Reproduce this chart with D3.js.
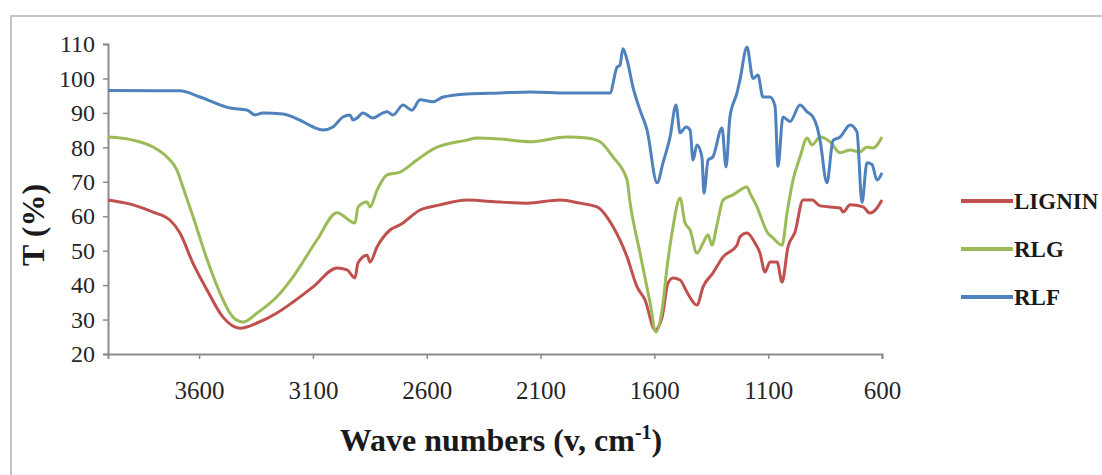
<!DOCTYPE html>
<html>
<head>
<meta charset="utf-8">
<script src="https://cdn.jsdelivr.net/npm/d3@7"></script>
<style>
  html, body { margin: 0; padding: 0; background: #fff; }
  svg { display: block; }
</style>
</head>
<body>
<svg id="chart" width="1102" height="475"></svg>
<script>
// Series names, legend order
const seriesNames = ["LIGNIN", "RLG", "RLF"];
const seriesColors = ["#c0504d", "#9bbb59", "#4f81bd"];

// Axis ticks
const xTicks = [3600, 3100, 2600, 2100, 1600, 1100, 600];
const yTicks = [20, 30, 40, 50, 60, 70, 80, 90, 100, 110];

// LIGNIN: wave number (cm-1) and transmittance (%)
const ligninWave = [4000, 3890, 3802, 3728, 3684, 3627, 3565, 3495, 3420, 3345, 3258, 3187, 3099, 2994, 2950, 2915, 2902, 2862, 2849, 2818, 2761, 2717, 2629, 2542, 2423, 2278, 2159, 2014, 1927, 1852, 1782, 1720, 1676, 1641, 1597, 1566, 1540, 1518, 1487, 1457, 1413, 1386, 1343, 1298, 1237, 1224, 1193, 1158, 1136, 1114, 1092, 1061, 1039, 1013, 982, 947, 907, 872, 784, 771, 740, 683, 653, 622, 600];
const ligninT = [64.7, 63.3, 61.2, 58.9, 55.1, 46.4, 38.6, 30.7, 27.5, 29.0, 31.9, 35.1, 39.5, 45.0, 44.4, 42.1, 46.4, 48.7, 46.7, 51.1, 56.0, 57.5, 61.8, 63.3, 64.7, 64.1, 63.8, 64.7, 63.8, 62.7, 57.0, 48.2, 39.5, 35.7, 27.0, 30.7, 40.6, 42.1, 41.5, 38.0, 34.2, 39.5, 43.5, 48.2, 51.6, 54.0, 55.1, 52.2, 49.3, 43.8, 46.7, 46.7, 40.9, 51.1, 55.4, 64.7, 64.7, 63.0, 62.4, 61.2, 63.3, 62.7, 60.9, 62.4, 64.7];

// RLG
const rlgWave = [4000, 3890, 3802, 3741, 3697, 3671, 3627, 3565, 3508, 3451, 3407, 3345, 3258, 3187, 3082, 2994, 2915, 2902, 2862, 2849, 2818, 2774, 2717, 2643, 2572, 2423, 2379, 2278, 2146, 1984, 1896, 1839, 1782, 1720, 1707, 1663, 1619, 1593, 1566, 1544, 1518, 1487, 1465, 1443, 1413, 1386, 1364, 1347, 1325, 1298, 1254, 1193, 1180, 1149, 1127, 1105, 1079, 1039, 1017, 991, 960, 929, 907, 872, 828, 784, 740, 697, 666, 640, 600];
const rlgT = [83.0, 82.1, 80.1, 77.2, 73.4, 68.5, 60.0, 47.5, 37.7, 30.7, 29.3, 31.9, 36.6, 42.4, 53.1, 61.0, 58.0, 62.7, 64.1, 62.7, 67.6, 72.0, 72.8, 76.3, 79.5, 82.1, 82.7, 82.4, 81.6, 83.0, 82.7, 81.6, 77.2, 70.5, 64.1, 49.3, 35.0, 26.4, 32.8, 45.3, 56.9, 65.3, 58.0, 56.0, 49.3, 52.2, 54.6, 51.6, 57.5, 64.7, 66.2, 68.5, 66.7, 62.7, 58.9, 55.4, 53.7, 51.6, 61.0, 70.5, 77.2, 82.7, 80.7, 83.0, 81.6, 78.4, 79.2, 78.7, 80.1, 79.8, 83.0];

// RLF
const rlfWave = [4000, 3684, 3596, 3464, 3389, 3354, 3319, 3231, 3157, 3099, 3056, 3012, 2968, 2937, 2924, 2906, 2880, 2836, 2792, 2774, 2748, 2704, 2665, 2629, 2572, 2528, 2423, 2278, 2146, 1984, 1839, 1795, 1764, 1751, 1738, 1720, 1694, 1663, 1632, 1588, 1562, 1531, 1505, 1487, 1461, 1443, 1430, 1413, 1391, 1382, 1364, 1343, 1303, 1285, 1268, 1237, 1224, 1193, 1167, 1145, 1123, 1092, 1070, 1057, 1035, 1004, 960, 929, 903, 885, 872, 842, 815, 784, 740, 710, 688, 666, 644, 622, 600];
const rlfT = [96.5, 96.4, 94.6, 91.4, 90.8, 89.4, 90.0, 89.7, 87.9, 85.9, 85.0, 85.9, 88.8, 89.4, 87.9, 88.5, 90.0, 88.5, 90.0, 90.3, 89.4, 92.3, 90.8, 93.8, 93.2, 94.6, 95.5, 95.8, 96.1, 95.8, 95.8, 95.8, 103.3, 103.9, 108.6, 105.4, 97.5, 90.8, 85.0, 69.7, 75.5, 83.0, 92.3, 84.2, 85.9, 85.0, 76.3, 80.7, 77.2, 66.7, 76.3, 77.2, 85.6, 74.3, 88.8, 95.8, 99.6, 109.1, 100.0, 101.0, 94.6, 94.6, 92.0, 74.5, 88.8, 87.5, 92.3, 90.3, 88.8, 85.9, 82.0, 69.7, 82.0, 83.0, 86.5, 84.5, 64.0, 75.5, 75.0, 70.5, 72.6];

const svg = d3.select("#chart");
const width = +svg.attr("width");
const height = +svg.attr("height");

// Outer frame of the chart area
svg.append("rect")
  .attr("x", 11).attr("y", 16)
  .attr("width", width).attr("height", height)
  .attr("fill", "#fff")
  .attr("stroke", "#c4c4c4")
  .attr("stroke-width", 2);

// Scales
const x = d3.scaleLinear().domain([4000, 600]).range([108, 882]);
const y = d3.scaleLinear().domain([20, 110]).range([354, 44]);

const axisColor = "#8c8c8c";
const serif = "'Liberation Serif', 'Times New Roman', serif";

// Y axis
const yAxis = svg.append("g")
  .attr("transform", `translate(${x(4000)},0)`)
  .call(d3.axisLeft(y).tickValues(yTicks).tickSize(5).tickPadding(8));
yAxis.select(".domain").attr("stroke", axisColor).attr("stroke-width", 2);
yAxis.selectAll(".tick line").attr("stroke", axisColor).attr("stroke-width", 1.5);
yAxis.selectAll(".tick text")
  .attr("font-family", serif)
  .attr("font-size", "24px")
  .attr("fill", "#262626");

// X axis (plain numbers, no thousands separator)
const xAxis = svg.append("g")
  .attr("transform", `translate(0,${y(20)})`)
  .call(d3.axisBottom(x).tickValues(xTicks).tickFormat(d3.format("d")).tickSize(5).tickPadding(22));
xAxis.select(".domain").attr("stroke", axisColor).attr("stroke-width", 2);
xAxis.selectAll(".tick line").attr("stroke", axisColor).attr("stroke-width", 1.5);
xAxis.selectAll(".tick text")
  .attr("font-family", serif)
  .attr("font-size", "25px")
  .attr("fill", "#262626");

// Series lines
const series = [
  { name: seriesNames[0], color: seriesColors[0], wave: ligninWave, t: ligninT },
  { name: seriesNames[1], color: seriesColors[1], wave: rlgWave, t: rlgT },
  { name: seriesNames[2], color: seriesColors[2], wave: rlfWave, t: rlfT }
];

const line = d3.line()
  .x(d => x(d[0]))
  .y(d => y(d[1]))
  .curve(d3.curveMonotoneX);

series.forEach(s => {
  const pts = s.wave.map((w, i) => [w, s.t[i]]);
  svg.append("path")
    .datum(pts)
    .attr("d", line)
    .attr("fill", "none")
    .attr("stroke", s.color)
    .attr("stroke-width", 3)
    .attr("stroke-linejoin", "round");
});

// Axis titles
const xTitle = svg.append("text")
  .attr("x", 501)
  .attr("y", 451)
  .attr("text-anchor", "middle")
  .attr("font-family", serif)
  .attr("font-weight", "bold")
  .attr("font-size", "32px")
  .attr("fill", "#1a1a1a");
xTitle.append("tspan").text("Wave numbers (v, cm");
xTitle.append("tspan").attr("dy", -12).attr("font-size", "20px").text("-1");
xTitle.append("tspan").attr("dy", 12).text(")");

svg.append("text")
  .attr("transform", "translate(44,225) rotate(-90)")
  .attr("text-anchor", "middle")
  .attr("font-family", serif)
  .attr("font-weight", "bold")
  .attr("font-size", "32px")
  .attr("fill", "#1a1a1a")
  .text("T (%)");

// Legend (shifted a little left so LIGNIN fits inside the page)
const legend = svg.append("g").attr("transform", "translate(961,201)");
const items = legend.selectAll("g")
  .data(series)
  .enter()
  .append("g")
  .attr("transform", (d, i) => `translate(0,${i * 48})`);
items.append("line")
  .attr("x1", 0).attr("x2", 52)
  .attr("y1", 0).attr("y2", 0)
  .attr("stroke", d => d.color)
  .attr("stroke-width", 4);
items.append("text")
  .attr("x", 53)
  .attr("y", 8)
  .attr("font-family", serif)
  .attr("font-weight", "bold")
  .attr("font-size", "23px")
  .attr("fill", "#1a1a1a")
  .text(d => d.name);
</script>
</body>
</html>
